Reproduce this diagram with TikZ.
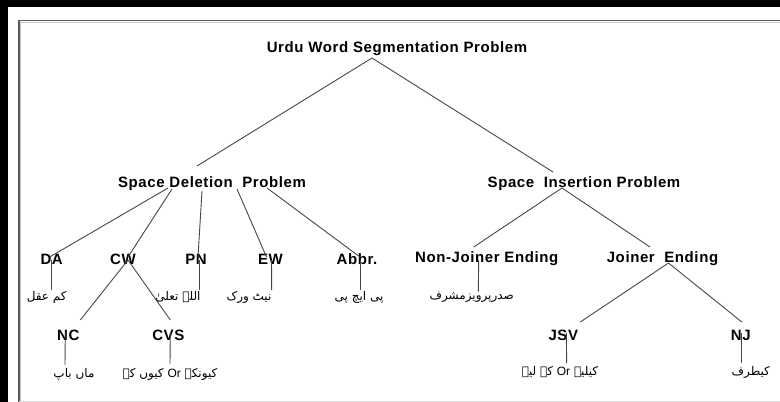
\documentclass[tikz,border=0pt]{standalone}
\usepackage{fontspec}
\usetikzlibrary{calc}
\setmainfont{Liberation Sans}
\newfontfamily\lblfont{Liberation Sans}[LetterSpace=4]
\newfontfamily\urdufont[Script=Arabic]{DejaVu Sans}
\newfontfamily\latfont{Liberation Sans}
\TeXXeTstate=1
\tikzset{
  lbl/.style={font=\lblfont\bfseries\fontsize{15}{18}\selectfont, inner sep=0pt, anchor=base},
  urdu/.style={font=\urdufont\fontsize{12}{14}\selectfont, inner sep=0pt, anchor=center},
  conn/.style={draw=black!72, line width=0.9pt},
}
\begin{document}
\begin{tikzpicture}[x=1pt,y=-1pt]
\useasboundingbox (0,0) rectangle (780,402);
\fill[white] (0,0) rectangle (780,402);
% frame
\fill[black] (0,0) rectangle (780,7);
\fill[black] (0,0) rectangle (8,402);
\draw[black!22, line width=1pt] (20.5,402) -- (20.5,22.3) -- (780,22.3);
\draw[black!65, line width=1.3pt] (19,402) -- (19,20.8) -- (780,20.8);
\draw[black!15, line width=1pt] (19,401) -- (780,401);

% labels
\node[lbl] (root) at (397,52) {Urdu Word Segmentation Problem};
\node[lbl] (SDP) at (212,187) {Space Deletion\ \ Problem};
\node[lbl] (SIP) at (584,187) {Space\ \ Insertion Problem};
\node[lbl] (DA) at (51.7,264) {DA};
\node[lbl] (CW) at (123,264) {CW};
\node[lbl] (PN) at (196,264) {PN};
\node[lbl] (EW) at (270.5,264) {EW};
\node[lbl] (AB) at (357,264) {Abbr.};
\node[lbl] (NJE) at (486.7,262) {Non-Joiner Ending};
\node[lbl] (JE) at (662.5,262) {Joiner\ \ Ending};
\node[lbl] (NC) at (68.3,340) {NC};
\node[lbl] (CVS) at (168.3,340) {CVS};
\node[lbl] (JSV) at (563.3,340) {JSV};
\node[lbl] (NJ) at (740.8,340) {NJ};

% urdu texts
\node[urdu] (DAu) at (46.7,297) {\beginR کم عقل\endR};
\node[urdu] (PNu) at (178,297) {\beginR اللہ تعلیٰ\endR};
\node[urdu] (EWu) at (249,297) {\beginR نیٹ ورک\endR};
\node[urdu] (ABu) at (359,297) {\beginR پی ایچ پی\endR};
\node[urdu] (NJEu) at (471.7,297) {\beginR صدرپرویزمشرف\endR};
\node[urdu] (NCu) at (74,374) {\beginR ماں باپ\endR};
\node[urdu] (CVSu) at (170,374) {\beginR کیونکہ \beginL{\latfont Or}\endL{} کیوں کہ\endR};
\node[urdu] (JSVu) at (560,372) {\beginR کیلیے \beginL{\latfont Or}\endL{} کے لیے\endR};
\node[urdu] (NJu) at (750.8,372) {\beginR کیطرف\endR};

% connectors
\draw[conn] ($(root.base)+(-25,6)$) -- ($(SDP.base)+(-15,-21)$);
\draw[conn] ($(root.base)+(-25,6)$) -- ($(SIP.base)+(-31,-15)$);

\draw[conn] ($(SDP.base)+(-44,1)$) -- ($(DA.base)+(-2,-7)$);
\draw[conn] ($(SDP.base)+(-40,2)$) -- ($(CW.base)+(5,-7)$);
\draw[conn] ($(SDP.base)+(-10,4)$) -- ($(PN.base)+(2,-7)$);
\draw[conn] ($(SDP.base)+(25,2)$) -- ($(EW.base)+(-4,-7)$);
\draw[conn] ($(SDP.base)+(55,1)$) -- ($(AB.base)+(3,-7)$);

\draw[conn] ($(DA.base)+(0,-4)$) -- ($(DAu.center)+(5,-7)$);
\draw[conn] ($(PN.base)+(3,-4)$) -- ($(PNu.center)+(21,-7)$);
\draw[conn] ($(EW.base)+(1,-4)$) -- ($(EWu.center)+(22.7,-7)$);
\draw[conn] ($(AB.base)+(3,-4)$) -- ($(ABu.center)+(1,-7)$);

\draw[conn] ($(CW.base)+(5,-4)$) -- ($(NC.base)+(12,-20)$);
\draw[conn] ($(CW.base)+(5,-4)$) -- ($(CVS.base)+(2,-20)$);
\draw[conn] ($(NC.base)+(-3,-7)$) -- ($(NCu.center)+(-9,-9)$);
\draw[conn] ($(CVS.base)+(2,-7)$) -- ($(CVSu.center)+(0,-10)$);

\draw[conn] ($(SIP.base)+(-22,1)$) -- ($(NJE.base)+(-13,-15)$);
\draw[conn] ($(SIP.base)+(-22,1)$) -- ($(JE.base)+(-12.5,-15)$);
\draw[conn] ($(NJE.base)+(-8,-2)$) -- ($(NJEu.center)+(6.6,-5.5)$);

\draw[conn] ($(JE.base)+(6,1)$) -- ($(JSV.base)+(17,-18)$);
\draw[conn] ($(JE.base)+(6,1)$) -- ($(NJ.base)+(1,-18)$);
\draw[conn] ($(JSV.base)+(3,-7)$) -- ($(JSVu.center)+(6.7,-9)$);
\draw[conn] ($(NJ.base)+(1,-7)$) -- ($(NJu.center)+(-9,-9)$);
\end{tikzpicture}
\end{document}
